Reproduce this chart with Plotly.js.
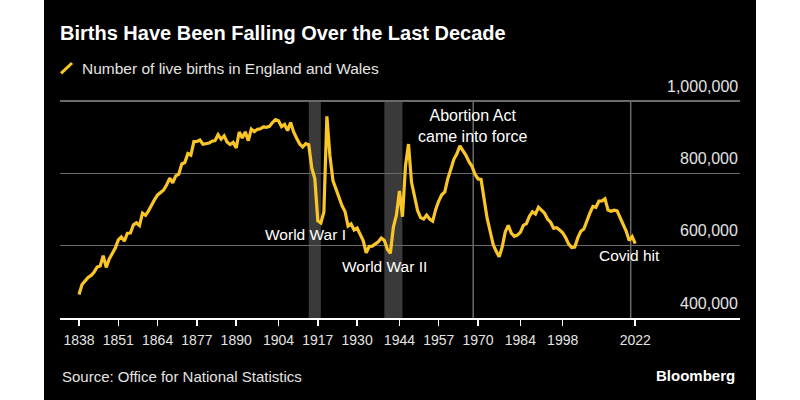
<!DOCTYPE html>
<html>
<head>
<meta charset="utf-8">
<script src="https://cdn.plot.ly/plotly-3.0.1.min.js"></script>
<style>
html,body{margin:0;padding:0;background:#ffffff;}
#chart{position:absolute;left:44px;top:0;width:712px;height:400px;}
</style>
</head>
<body>
<div id="chart"></div>
<script>
// ---- Data ----
const startYear = 1838;
const births = [
  464800, 492600, 502300, 512200, 517700, 527300, 540800, 543500, 572600, 540000,
  563100, 578200, 593400, 615900, 624200, 612400, 634400, 635000, 657700, 663100,
  655500, 689900, 684000, 696400, 712700, 727400, 740300, 748100, 753900, 768300,
  786900, 773400, 792800, 797400, 825900, 829800, 854900, 850600, 887900, 888200,
  891900, 880400, 881600, 883600, 889000, 890700, 906800, 894300, 903800, 886300,
  879900, 885900, 869900, 914200, 897900, 914600, 890300, 922300, 915300, 921700,
  923200, 928600, 927100, 929800, 940500, 948300, 945400, 929300, 935100, 918000,
  940400, 914500, 897000, 881100, 872700, 881900, 879100, 814600, 785500, 668300,
  662700, 692400, 957800, 848800, 780100, 758100, 729900, 710600, 694600, 654200,
  660300, 643700, 648800, 632100, 613900, 580400, 597600, 598800, 605300, 610600,
  621200, 614500, 590100, 579100, 651500, 684300, 751500, 679900, 820700, 881000,
  775300, 730500, 697100, 677500, 673700, 684400, 673700, 667800, 700300, 723400,
  740700, 748500, 785000, 811300, 838700, 854100, 876000, 862700, 849800, 832200,
  819300, 797500, 784500, 783200, 725400, 675900, 639900, 603400, 584300, 569300,
  596400, 638000, 656200, 634500, 625900, 629100, 636800, 656400, 661000, 681500,
  693600, 687700, 706100, 699200, 689700, 673500, 664700, 648100, 649500, 643100,
  635900, 621900, 604400, 594600, 596100, 621500, 639700, 645800, 669600, 690000,
  708700, 706200, 723200, 723900, 729700, 698500, 695200, 697900, 696300, 679100,
  657100, 640400, 613900, 624800, 605500
];
const xTickYears = [1838, 1851, 1864, 1877, 1890, 1904, 1917, 1930, 1944, 1957, 1970, 1984, 1998, 2022];
const yTickValues = [400000, 600000, 800000, 1000000];
const yTickLabels = ['400,000', '600,000', '800,000', '1,000,000'];
const warPeriods = [[1914, 1918], [1939, 1945]];
const eventYears = [1968.4, 2020.5];
const seriesName = 'Number of live births in England and Wales';
const titleText = 'Births Have Been Falling Over the Last Decade';
const sourceText = 'Source: Office for National Statistics';

// ---- Style ----
const YELLOW = '#fac526';
const GRID = '#6a6a6a';
const TXT = '#e4e4e4';
const FONT = 'Liberation Sans, Arial, sans-serif';

const trace = {
  type: 'scatter', mode: 'lines', name: seriesName,
  x0: startYear, dx: 1, y: births,
  line: {color: YELLOW, width: 3.2, shape: 'linear'},
  hoverinfo: 'skip'
};

const yMin = yTickValues[0];
const yMax = yTickValues[yTickValues.length - 1];

const shapes = [];
warPeriods.forEach(p => shapes.push({
  type: 'rect', xref: 'x', yref: 'y', x0: p[0], x1: p[1],
  y0: yMin, y1: yMax,
  fillcolor: '#3a3a3a', line: {width: 0}, layer: 'below'
}));
eventYears.forEach(e => shapes.push({
  type: 'line', xref: 'x', yref: 'y', x0: e, x1: e,
  y0: yMin, y1: yMax,
  line: {color: GRID, width: 1.5}, layer: 'below'
}));
// legend stroke icon
shapes.push({type: 'line', xref: 'paper', yref: 'paper',
  x0: 0.0015, y0: 1.112, x1: 0.0177, y1: 1.159,
  line: {color: YELLOW, width: 3}});

const annotations = [];
yTickValues.forEach((v, i) => annotations.push({
  xref: 'paper', yref: 'y', x: 1, y: v, xanchor: 'right', yanchor: 'middle', yshift: 15,
  text: yTickLabels[i], showarrow: false, font: {size: 16, color: TXT}
}));
annotations.push(
  {xref: 'paper', yref: 'paper', x: 0.0294, y: 1.134, xanchor: 'left', yanchor: 'middle',
   text: seriesName, showarrow: false, font: {size: 15.5, color: TXT}},
  {xref: 'x', yref: 'y', x: 1927.1, y: 630000, xanchor: 'right', yanchor: 'middle',
   text: 'World War I', showarrow: false, font: {size: 15.5, color: '#ffffff'}},
  {xref: 'x', yref: 'y', x: 1939, y: 542000, xanchor: 'center', yanchor: 'middle',
   text: 'World War II', showarrow: false, font: {size: 15.5, color: '#ffffff'}},
  {xref: 'x', yref: 'y', x: 1968.1, y: 932000, xanchor: 'center', yanchor: 'middle',
   text: 'Abortion Act<br>came into force', showarrow: false, font: {size: 16, color: '#ffffff'}},
  {xref: 'x', yref: 'y', x: 2020, y: 573000, xanchor: 'center', yanchor: 'middle',
   text: 'Covid hit', showarrow: false, font: {size: 15.5, color: '#ffffff'}},
  {xref: 'paper', yref: 'paper', x: 0, y: -0.268, xanchor: 'left', yanchor: 'middle',
   text: sourceText, showarrow: false, font: {size: 15, color: TXT}},
  {xref: 'paper', yref: 'paper', x: 0.9956, y: -0.260, xanchor: 'right', yanchor: 'middle',
   text: 'Bloomberg', showarrow: false, font: {size: 15, color: '#ffffff', weight: 700}}
);

const layout = {
  width: 712, height: 400,
  paper_bgcolor: '#000000', plot_bgcolor: '#000000',
  margin: {l: 16, r: 16, t: 98, b: 82, pad: 0},
  showlegend: false,
  font: {family: FONT, color: TXT},
  title: {text: titleText, xref: 'container', yref: 'container',
    x: 16 / 712, xanchor: 'left', y: 1 - 33 / 400, yanchor: 'middle',
    font: {size: 20, color: '#ffffff', weight: 700}},
  xaxis: {range: [1831.71, 2056.66], tickmode: 'array', tickvals: xTickYears,
    ticktext: xTickYears.map(String), ticks: 'outside', ticklen: 6, tickwidth: 1.5,
    tickcolor: '#ffffff', showline: true, linecolor: '#ffffff', linewidth: 1.5,
    showgrid: false, zeroline: false, tickfont: {size: 14, color: TXT},
    ticklabelstandoff: 3, fixedrange: true},
  yaxis: {range: [yMin, yMax + 8295], tickmode: 'array',
    tickvals: yTickValues, showticklabels: false, ticks: '', showgrid: true,
    gridcolor: GRID, gridwidth: 1.2, zeroline: false, showline: false, fixedrange: true},
  shapes: shapes,
  annotations: annotations
};

Plotly.newPlot('chart', [trace], layout, {staticPlot: true, displayModeBar: false});
</script>
</body>
</html>
